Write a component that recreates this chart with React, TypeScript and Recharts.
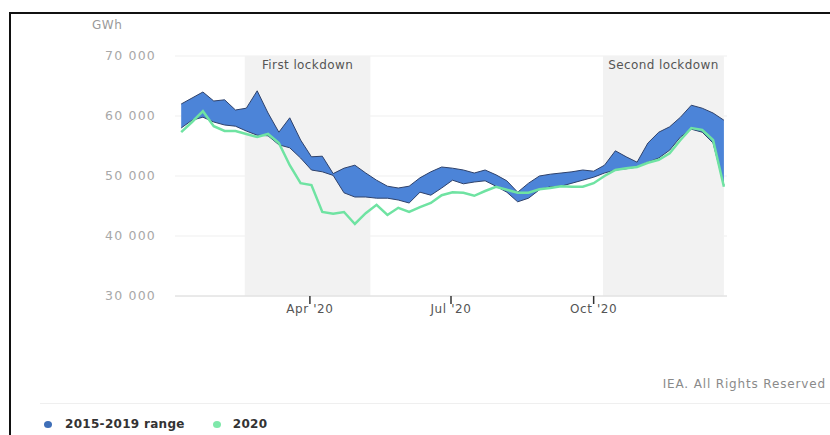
import React from 'react';
import { ComposedChart, Area, Line, XAxis, YAxis, CartesianGrid, ReferenceArea } from 'recharts';

// Weekly electricity demand, GWh
const HIGH = [
  62000, 63000, 64000, 62500, 62700, 61000, 61300, 64200, 60500, 57300,
  59700, 56000, 53200, 53300, 50400, 51300, 51800, 50500, 49300, 48300,
  48000, 48300, 49700, 50700, 51500, 51300, 51000, 50500, 51000, 50200,
  49200, 47300, 48800, 50000, 50300, 50500, 50700, 51000, 50800, 51800,
  54200, 53200, 52300, 55500, 57300, 58200, 59800, 61800, 61300, 60500,
  59300,
];
const LOW = [
  58000, 59300, 59800, 59000, 58500, 58300, 57500, 56800, 56700, 55200,
  54700, 53000, 51000, 50700, 50100, 47200, 46500, 46500, 46300, 46300,
  46000, 45500, 47300, 46800, 48000, 49300, 48700, 49000, 49200, 48300,
  47300, 45700, 46300, 47700, 48200, 48300, 48800, 49300, 49800, 50500,
  51000, 51200, 51500, 52300, 53000, 54300, 56500, 57800, 57300, 55500,
  48500,
];
const Y2020 = [
  57300, 59000, 60800, 58300, 57500, 57500, 57000, 56500, 57000, 55500,
  51800, 48800, 48500, 44000, 43700, 44000, 42000, 43800, 45200, 43500,
  44700, 44000, 44800, 45500, 46800, 47300, 47200, 46700, 47500, 48200,
  47700, 47200, 47200, 47800, 48000, 48300, 48200, 48200, 48800, 50000,
  51000, 51300, 51500, 52200, 52700, 53800, 56000, 58000, 57700, 56000,
  48200,
];
// day of year for each weekly point
const WEEK_DAY = HIGH.map((_, i) => 8 + i * 7);

const X_TICKS = [91, 182, 274];
const X_TICK_LABELS = ["Apr '20", "Jul '20", "Oct '20"];
const Y_TICKS = [30000, 40000, 50000, 60000, 70000];

const LOCKDOWN_NAMES = ['First lockdown', 'Second lockdown'];
const LOCKDOWN_START = [49, 280];
const LOCKDOWN_END = [130, 358];

const FONT = '"DejaVu Sans", sans-serif';

const data = WEEK_DAY.map((day, i) => ({
  day,
  range: [LOW[i], HIGH[i]],
  y2020: Y2020[i],
}));

const fmtY = (v: number) => `${v / 1000} 000`;
const fmtX = (v: number) => X_TICK_LABELS[X_TICKS.indexOf(v)] ?? '';

export default function App() {
  return (
    <div style={{ position: 'absolute', left: 0, top: 0, width: 830, height: 435, background: '#fff', fontFamily: FONT, overflow: 'hidden' }}>
      {/* frame */}
      <div style={{ position: 'absolute', left: 9, top: 12, width: 830, height: 430, borderTop: '2px solid #111', borderLeft: '2px solid #111' }} />

      <div style={{ position: 'absolute', left: 92, top: 18, fontSize: 12, color: '#9a9a9a', letterSpacing: 0.5 }}>GWh</div>

      <div style={{ position: 'absolute', left: 0, top: 0 }}>
        <ComposedChart width={830} height={435} data={data} margin={{ top: 56, right: 103, bottom: 109, left: 95 }}>
          <CartesianGrid vertical={false} stroke="#efefef" />
          {LOCKDOWN_NAMES.map((name, i) => (
            <ReferenceArea
              key={name}
              x1={LOCKDOWN_START[i]}
              x2={LOCKDOWN_END[i]}
              fill="#f2f2f2"
              fillOpacity={1}
              ifOverflow="hidden"
              label={{ value: name, position: 'insideTop', offset: 4, fill: '#555', fontSize: 12, fontFamily: FONT, letterSpacing: 0.4 }}
            />
          ))}
          <XAxis
            dataKey="day"
            type="number"
            domain={[4, 360]}
            allowDataOverflow
            ticks={X_TICKS}
            tickFormatter={fmtX}
            height={30}
            axisLine={{ stroke: '#dcdcdc' }}
            tickLine={{ stroke: '#333', strokeWidth: 1.5 }}
            tickSize={8}
            tickMargin={0}
            tick={{ fill: '#555', fontSize: 12, fontFamily: FONT, letterSpacing: 0.6 }}
          />
          <YAxis
            domain={[30000, 70000]}
            ticks={Y_TICKS}
            tickFormatter={fmtY}
            width={80}
            axisLine={false}
            tickLine={false}
            tickSize={0}
            tickMargin={19}
            tick={{ fill: '#a8a8a8', fontSize: 12.5, fontFamily: FONT, letterSpacing: 1.2 }}
          />
          <Area
            type="linear"
            dataKey="range"
            stroke="#2f426b"
            strokeWidth={1}
            fill="#4c84d8"
            fillOpacity={1}
            isAnimationActive={false}
          />
          <Line
            type="linear"
            dataKey="y2020"
            stroke="#6fe3a2"
            strokeWidth={2.5}
            dot={false}
            isAnimationActive={false}
          />
        </ComposedChart>
      </div>

      <div style={{ position: 'absolute', right: 4, top: 377, fontSize: 12, color: '#8a8a8a', letterSpacing: 0.85 }}>IEA. All Rights Reserved</div>
      <div style={{ position: 'absolute', left: 40, top: 403, width: 790, height: 1, background: '#efefef' }} />

      {/* legend */}
      <div style={{ position: 'absolute', left: 44, top: 417, display: 'flex', alignItems: 'center', fontSize: 12, fontWeight: 'bold', color: '#333', letterSpacing: 0.3 }}>
        <span style={{ display: 'inline-block', width: 8, height: 7, borderRadius: '50%', background: '#3f6fb8', marginRight: 13 }} />
        <span>2015-2019 range</span>
        <span style={{ display: 'inline-block', width: 8, height: 7, borderRadius: '50%', background: '#7fe8aa', marginLeft: 28, marginRight: 12 }} />
        <span>2020</span>
      </div>
    </div>
  );
}
